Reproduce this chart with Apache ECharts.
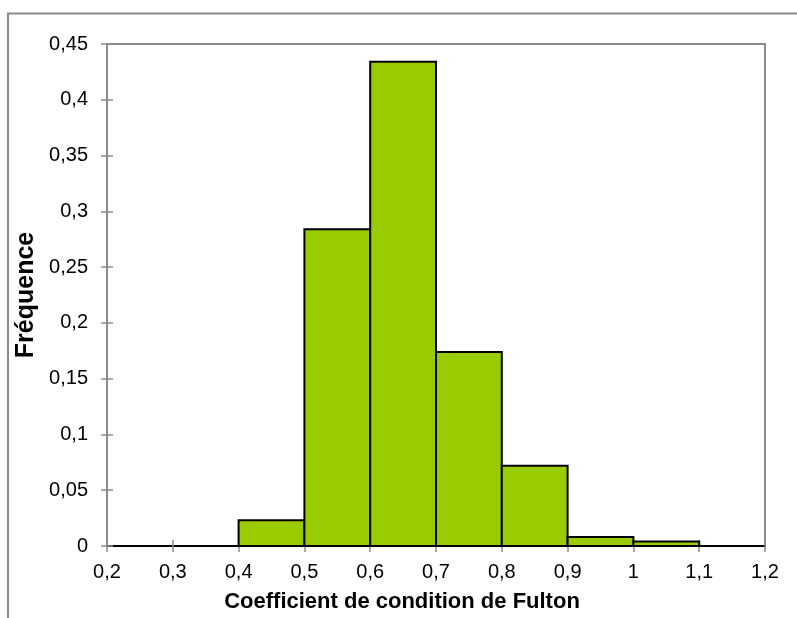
<!DOCTYPE html>
<html>
<head>
<meta charset="utf-8">
<script src="https://cdn.jsdelivr.net/npm/echarts@6/dist/echarts.min.js"></script>
<style>
html,body{margin:0;padding:0;background:#fff;}
#chart{width:797px;height:618px;}
</style>
</head>
<body>
<div id="chart"></div>
<script>
// Histogram bins (Coefficient de condition de Fulton)
const binStarts = [0.2, 0.3, 0.4, 0.5, 0.6, 0.7, 0.8, 0.9, 1.0, 1.1];
const binEnds   = [0.3, 0.4, 0.5, 0.6, 0.7, 0.8, 0.9, 1.0, 1.1, 1.2];
const frequencies = [0, 0, 0.023, 0.284, 0.434, 0.174, 0.072, 0.008, 0.004, 0];
const xTitle = 'Coefficient de condition de Fulton';
const yTitle = 'Fréquence';
const xTickValues = [0.2, 0.3, 0.4, 0.5, 0.6, 0.7, 0.8, 0.9, 1, 1.1, 1.2];
const yTickValues = [0, 0.05, 0.1, 0.15, 0.2, 0.25, 0.3, 0.35, 0.4, 0.45];

const FONT = '"Liberation Sans", Arial, sans-serif';
const fmt = v => String(+(+v).toFixed(2)).replace('.', ',');

const data = binStarts.map((s, i) => [s, binEnds[i], frequencies[i]]);

const chart = echarts.init(document.getElementById('chart'), null, {renderer: 'canvas'});

const baseX = {
  type: 'value',
  min: xTickValues[0], max: xTickValues[xTickValues.length - 1], interval: 0.1,
  splitLine: {show: false}
};
const baseY = {
  type: 'value',
  min: yTickValues[0], max: yTickValues[yTickValues.length - 1], interval: 0.05,
  splitLine: {show: false}
};

chart.setOption({
  animation: false,
  backgroundColor: '#ffffff',
  textStyle: {fontFamily: FONT},
  graphic: [{
    type: 'rect', silent: true, z: -10,
    shape: {x: 8, y: 13.5, width: 820, height: 700},
    style: {fill: '#ffffff', stroke: '#8c8c8c', lineWidth: 2}
  }],
  grid: {left: 107, right: 32, top: 44, bottom: 70, show: true, borderColor: '#8c8c8c', borderWidth: 2, backgroundColor: 'transparent'},
  xAxis: [
    Object.assign({}, baseX, {
      name: xTitle, nameLocation: 'middle', nameGap: 45,
      nameTextStyle: {fontFamily: FONT, fontSize: 22, fontWeight: 'bold', color: '#000', padding: [0, 68, 0, 0]},
      axisLine: {show: true, onZero: false, lineStyle: {color: '#000', width: 2}},
      axisTick: {show: true, inside: false, length: 6, lineStyle: {color: '#8c8c8c', width: 1.5}},
      axisLabel: {fontFamily: FONT, fontSize: 20, color: '#000', margin: 16, formatter: fmt}
    }),
    Object.assign({}, baseX, {
      position: 'bottom', gridIndex: 0,
      axisLine: {show: false},
      axisTick: {show: true, inside: true, length: 6, lineStyle: {color: '#8c8c8c', width: 1.5}},
      axisLabel: {show: false}
    })
  ],
  yAxis: [
    Object.assign({}, baseY, {
      name: yTitle, nameLocation: 'middle', nameGap: 63,
      nameTextStyle: {fontFamily: FONT, fontSize: 25, fontWeight: 'bold', color: '#000'},
      axisLine: {show: true, lineStyle: {color: '#8c8c8c', width: 2}},
      axisTick: {show: true, inside: false, length: 6, lineStyle: {color: '#8c8c8c', width: 1.5}},
      axisLabel: {fontFamily: FONT, fontSize: 20, color: '#000', margin: 19, formatter: fmt}
    }),
    Object.assign({}, baseY, {
      position: 'left',
      axisLine: {show: false},
      axisTick: {show: true, inside: true, length: 6, lineStyle: {color: '#8c8c8c', width: 1.5}},
      axisLabel: {show: false}
    })
  ],
  series: [{
    type: 'custom',
    xAxisIndex: 0, yAxisIndex: 0,
    z: 5,
    renderItem: function (params, api) {
      const s = api.value(0), e = api.value(1), v = api.value(2);
      if (!(v > 0)) return;
      const p0 = api.coord([s, v]);
      const p1 = api.coord([e, 0]);
      return {
        type: 'rect',
        shape: {x: p0[0], y: p0[1], width: p1[0] - p0[0], height: p1[1] - p0[1]},
        style: {fill: '#99cc00', stroke: '#000', lineWidth: 2}
      };
    },
    encode: {x: [0, 1], y: 2},
    data: data
  }]
});
</script>
</body>
</html>
